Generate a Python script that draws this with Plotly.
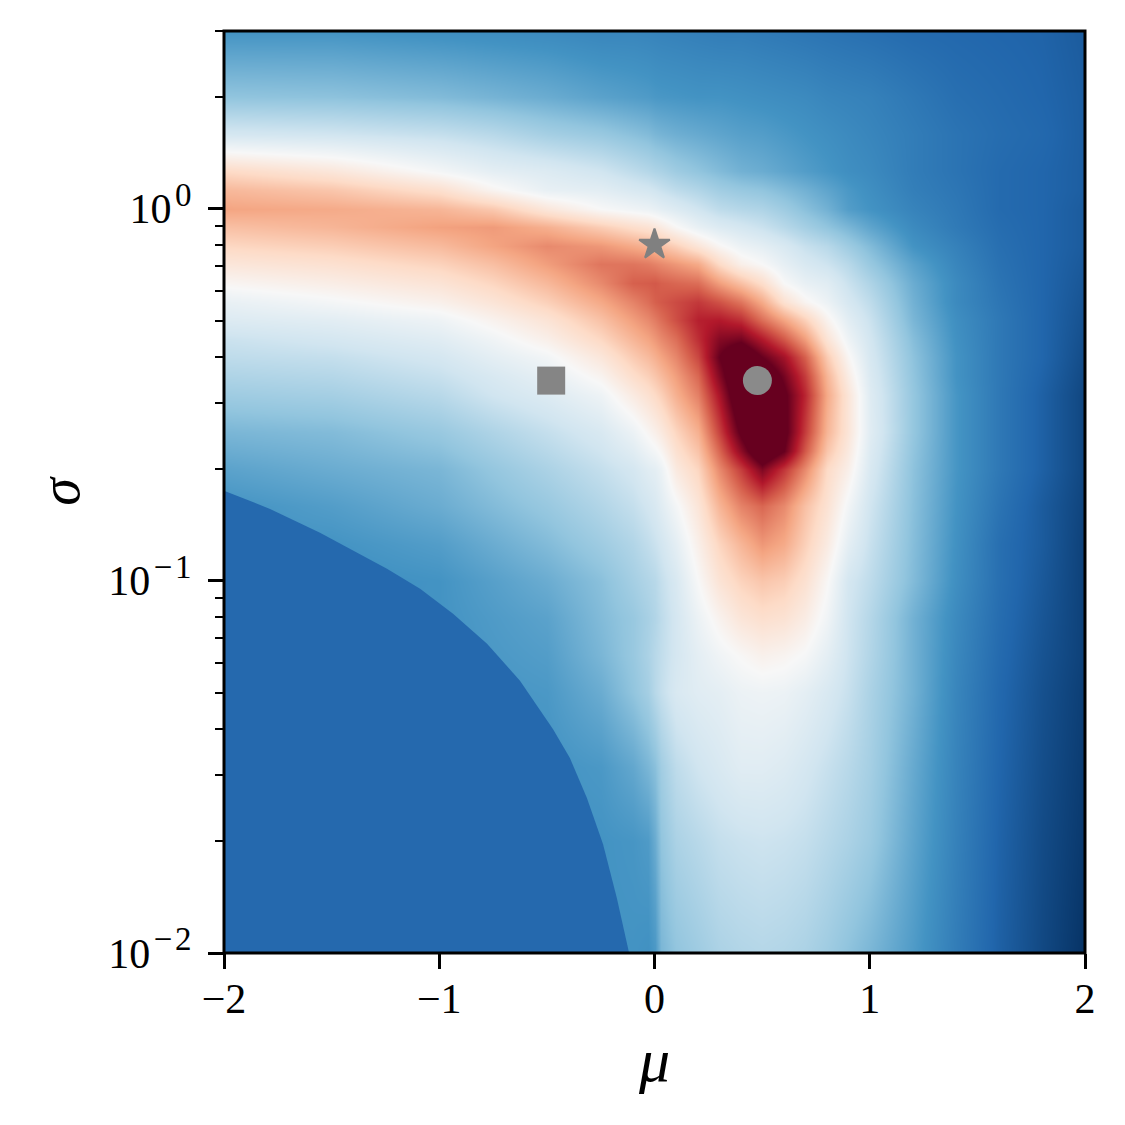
import plotly.graph_objects as go

# axes of the grid
mu = [-2, -1.5, -1, -0.75, -0.5, -0.25, -0.1, -0.03, 0, 0.03, 0.1, 0.2, 0.3, 0.4, 0.5, 0.6, 0.7, 0.8, 0.9, 1, 1.2, 1.4, 1.6, 1.8, 2]
log_sigma = [-2, -1.7, -1.5, -1.3, -1.2, -1.1, -1, -0.9, -0.8, -0.7, -0.65, -0.6, -0.5, -0.45, -0.4, -0.35, -0.3, -0.25, -0.2, -0.15, -0.1, -0.05, 0, 0.05, 0.1, 0.2, 0.3, 0.478]

# values (colour position on the scale), one row per sigma
z_m200 = [.2, .2, .2, .2, .2, .2, .2, .195, .21, .27, .3, .32, .34, .35, .355, .35, .34, .32, .295, .27, .215, .15, .09, .045, .005]
z_m170 = [.2, .2, .2, .2, .2, .2, .205, .215, .25, .3, .34, .36, .38, .39, .395, .39, .38, .36, .34, .315, .235, .16, .095, .05, .015]
z_m150 = [.2, .2, .2, .2, .2, .21, .24, .27, .29, .325, .37, .4, .42, .44, .44, .43, .41, .385, .36, .33, .245, .165, .1, .055, .02]
z_m130 = [.2, .2, .2, .205, .21, .25, .3, .33, .36, .38, .42, .44, .45, .47, .475, .47, .45, .42, .385, .34, .26, .17, .105, .06, .025]
z_m120 = [.2, .2, .2, .21, .22, .27, .31, .34, .36, .375, .41, .45, .48, .505, .525, .515, .495, .45, .395, .35, .26, .175, .11, .065, .03]
z_m110 = [.2, .2, .2, .215, .23, .28, .31, .335, .35, .37, .41, .47, .52, .565, .585, .575, .54, .48, .4, .355, .26, .18, .115, .07, .03]
z_m100 = [.2, .19, .2, .225, .25, .29, .33, .35, .36, .38, .42, .5, .57, .615, .64, .625, .58, .505, .41, .37, .28, .19, .12, .075, .03]
z_m090 = [.2, .2, .22, .25, .28, .32, .35, .375, .39, .405, .45, .53, .61, .67, .72, .69, .62, .545, .45, .385, .285, .195, .12, .08, .03]
z_m080 = [.2, .22, .25, .28, .31, .35, .38, .405, .42, .44, .49, .565, .67, .75, .79, .74, .65, .575, .485, .4, .29, .2, .13, .08, .035]
z_m070 = [.23, .25, .27, .305, .34, .38, .41, .44, .45, .47, .55, .61, .74, .85, .97, .86, .74, .6, .53, .42, .295, .205, .14, .09, .04]
z_m065 = [.25, .265, .29, .325, .36, .4, .44, .475, .49, .51, .58, .645, .79, .95, 1.1, 1, .81, .64, .55, .43, .3, .205, .14, .09, .04]
z_m060 = [.27, .28, .31, .345, .38, .42, .47, .51, .53, .55, .61, .68, .84, 1.02, 1.15, 1.03, .85, .67, .565, .44, .305, .205, .14, .09, .04]
z_m050 = [.32, .33, .36, .4, .43, .475, .545, .58, .6, .62, .68, .755, .91, 1.1, 1.15, 1.02, .88, .69, .565, .435, .305, .205, .14, .09, .04]
z_m045 = [.345, .355, .385, .42, .455, .517, .59, .62, .64, .66, .71, .79, .96, 1.12, 1.1, .98, .85, .67, .54, .425, .3, .2, .14, .095, .045]
z_m040 = [.37, .38, .41, .45, .485, .56, .63, .66, .68, .7, .745, .835, 1, 1.1, 1, .92, .8, .63, .51, .415, .295, .2, .14, .1, .05]
z_m035 = [.39, .41, .44, .48, .53, .606, .67, .7, .72, .74, .78, .87, .96, .98, .9, .81, .71, .57, .475, .405, .285, .195, .14, .1, .055]
z_m030 = [.43, .445, .475, .52, .57, .648, .71, .74, .76, .78, .825, .89, .9, .87, .78, .7, .62, .52, .445, .39, .27, .19, .14, .1, .06]
z_m025 = [.46, .49, .526, .567, .62, .693, .75, .78, .8, .81, .83, .855, .82, .77, .69, .58, .515, .47, .415, .37, .26, .18, .135, .1, .065]
z_m020 = [.51, .536, .57, .61, .665, .74, .8, .805, .81, .8, .79, .78, .71, .65, .59, .5, .46, .44, .39, .345, .25, .18, .13, .1, .07]
z_m015 = [.56, .58, .615, .653, .71, .77, .77, .76, .75, .74, .72, .69, .6, .53, .5, .455, .42, .395, .36, .31, .23, .17, .125, .1, .075]
z_m010 = [.605, .625, .66, .7, .74, .72, .69, .675, .66, .65, .62, .565, .51, .47, .45, .42, .385, .36, .32, .28, .2, .16, .12, .1, .08]
z_m005 = [.65, .67, .705, .715, .68, .626, .59, .575, .56, .545, .505, .46, .43, .41, .39, .36, .33, .3, .27, .235, .18, .145, .115, .1, .08]
z_p000 = [.7, .69, .67, .635, .56, .5, .48, .47, .46, .45, .43, .4, .37, .355, .345, .32, .29, .26, .22, .2, .165, .14, .11, .1, .08]
z_p005 = [.665, .64, .585, .515, .46, .445, .42, .41, .4, .39, .37, .35, .325, .31, .3, .28, .26, .235, .21, .19, .155, .135, .11, .1, .085]
z_p010 = [.6, .56, .49, .45, .43, .4, .37, .355, .345, .34, .32, .3, .28, .26, .25, .235, .22, .205, .19, .18, .15, .13, .11, .1, .085]
z_p020 = [.41, .4, .38, .36, .33, .31, .29, .28, .27, .265, .255, .245, .235, .225, .22, .21, .2, .19, .18, .17, .15, .13, .115, .105, .085]
z_p030 = [.3, .295, .28, .265, .25, .23, .22, .215, .21, .208, .205, .2, .2, .195, .19, .185, .18, .17, .165, .16, .14, .12, .11, .1, .085]
z_p048 = [.2, .2, .19, .185, .18, .17, .17, .167, .165, .163, .16, .155, .15, .15, .145, .14, .135, .13, .125, .12, .11, .105, .1, .095, .08]

# edge of the flat lower-left region
edge_mu = [-2, -1.786, -1.554, -1.4, -1.243, -1.089, -0.936, -0.778, -0.625, -0.472, -0.393, -0.314, -0.239, -0.175, -0.118]
edge_sigma = [0.1746, 0.156, 0.1346, 0.1204, 0.1077, 0.0952, 0.0815, 0.0677, 0.0539, 0.04, 0.0334, 0.0261, 0.0196, 0.01406, 0.01]
flat_colour = "#2569ae"

# marked points
star_mu, star_sigma = [0.0], [0.8]
square_mu, square_sigma = [-0.48], [0.345]
circle_mu, circle_sigma = [0.478], [0.345]

x_ticks = [-2, -1, 0, 1, 2]
x_labels = ["\u22122", "\u22121", "0", "1", "2"]
y_ticks = [0.01, 0.1, 1]
y_labels = ['10\u200a<sup><span style="font-size:33px">\u2212\u200a2</span></sup>',
            '10\u200a<sup><span style="font-size:33px">\u2212\u200a1</span></sup>',
            '10\u200a<sup><span style="font-size:33px">0</span></sup>']
y_minor = [a * d for d in (0.01, 0.1, 1) for a in range(2, 10) if a * d <= 3.0]

z = [z_m200, z_m170, z_m150, z_m130, z_m120, z_m110, z_m100, z_m090, z_m080, z_m070, z_m065, z_m060,
     z_m050, z_m045, z_m040, z_m035, z_m030, z_m025, z_m020, z_m015, z_m010, z_m005,
     z_p000, z_p005, z_p010, z_p020, z_p030, z_p048]
sigma = [10 ** v for v in log_sigma]

rdbu = ["#053061", "#2166ac", "#4393c3", "#92c5de", "#d1e5f0", "#f7f7f7",
        "#fddbc7", "#f4a582", "#d6604d", "#b2182b", "#67001f"]
colorscale = [[i / 10, c] for i, c in enumerate(rdbu)]

FONT = "Liberation Serif"
fig = go.Figure()
fig.add_trace(go.Heatmap(x=mu, y=sigma, z=z, zmin=0, zmax=1, zsmooth="best",
                         colorscale=colorscale, showscale=False, hoverinfo="skip"))
fig.add_trace(go.Scatter(x=edge_mu + [-2], y=edge_sigma + [0.01], mode="lines", fill="toself",
                         fillcolor=flat_colour, line=dict(color=flat_colour, width=0), hoverinfo="skip"))
grey = "#808080"
fig.add_trace(go.Scatter(x=star_mu, y=star_sigma, mode="markers",
                         marker=dict(symbol="star", size=23, color=grey, line=dict(color=grey, width=2))))
fig.add_trace(go.Scatter(x=square_mu, y=square_sigma, mode="markers",
                         marker=dict(symbol="square", size=28, color="#858585", line=dict(width=0))))
fig.add_trace(go.Scatter(x=circle_mu, y=circle_sigma, mode="markers",
                         marker=dict(symbol="circle", size=29, color="#8a8a8a", line=dict(width=0))))

axis_common = dict(showline=False, showgrid=False, zeroline=False, ticks="outside", tickcolor="black",
                   tickwidth=3, ticklen=15, layer="above traces",
                   tickfont=dict(family=FONT, size=42, color="black"))
fig.update_layout(
    width=1125, height=1125, autosize=False, showlegend=False,
    margin=dict(l=216, r=48, t=23, b=180), paper_bgcolor="white", plot_bgcolor="white",
    xaxis=dict(range=[-2, 2], tickmode="array", tickvals=x_ticks, ticktext=x_labels, ticklabelstandoff=-6,
               title=dict(text="<i>\u03bc</i>", font=dict(family=FONT, size=62, color="black"), standoff=16),
               **axis_common),
    yaxis=dict(type="log", range=[-2, 0.4771], tickmode="array", tickvals=y_ticks, ticktext=y_labels, ticklabelstandoff=8,
               minor=dict(tickmode="array", tickvals=y_minor, ticks="outside", ticklen=8, tickwidth=2, tickcolor="black"),
               title=dict(text="<i>\u03c3</i>", font=dict(family=FONT, size=56, color="black"), standoff=10),
               **axis_common),
    shapes=[dict(type="rect", xref="paper", yref="paper", x0=0, x1=1, y0=0, y1=1,
                 line=dict(color="black", width=3), fillcolor="rgba(0,0,0,0)", layer="above")],
)
fig.write_html("out.html")
